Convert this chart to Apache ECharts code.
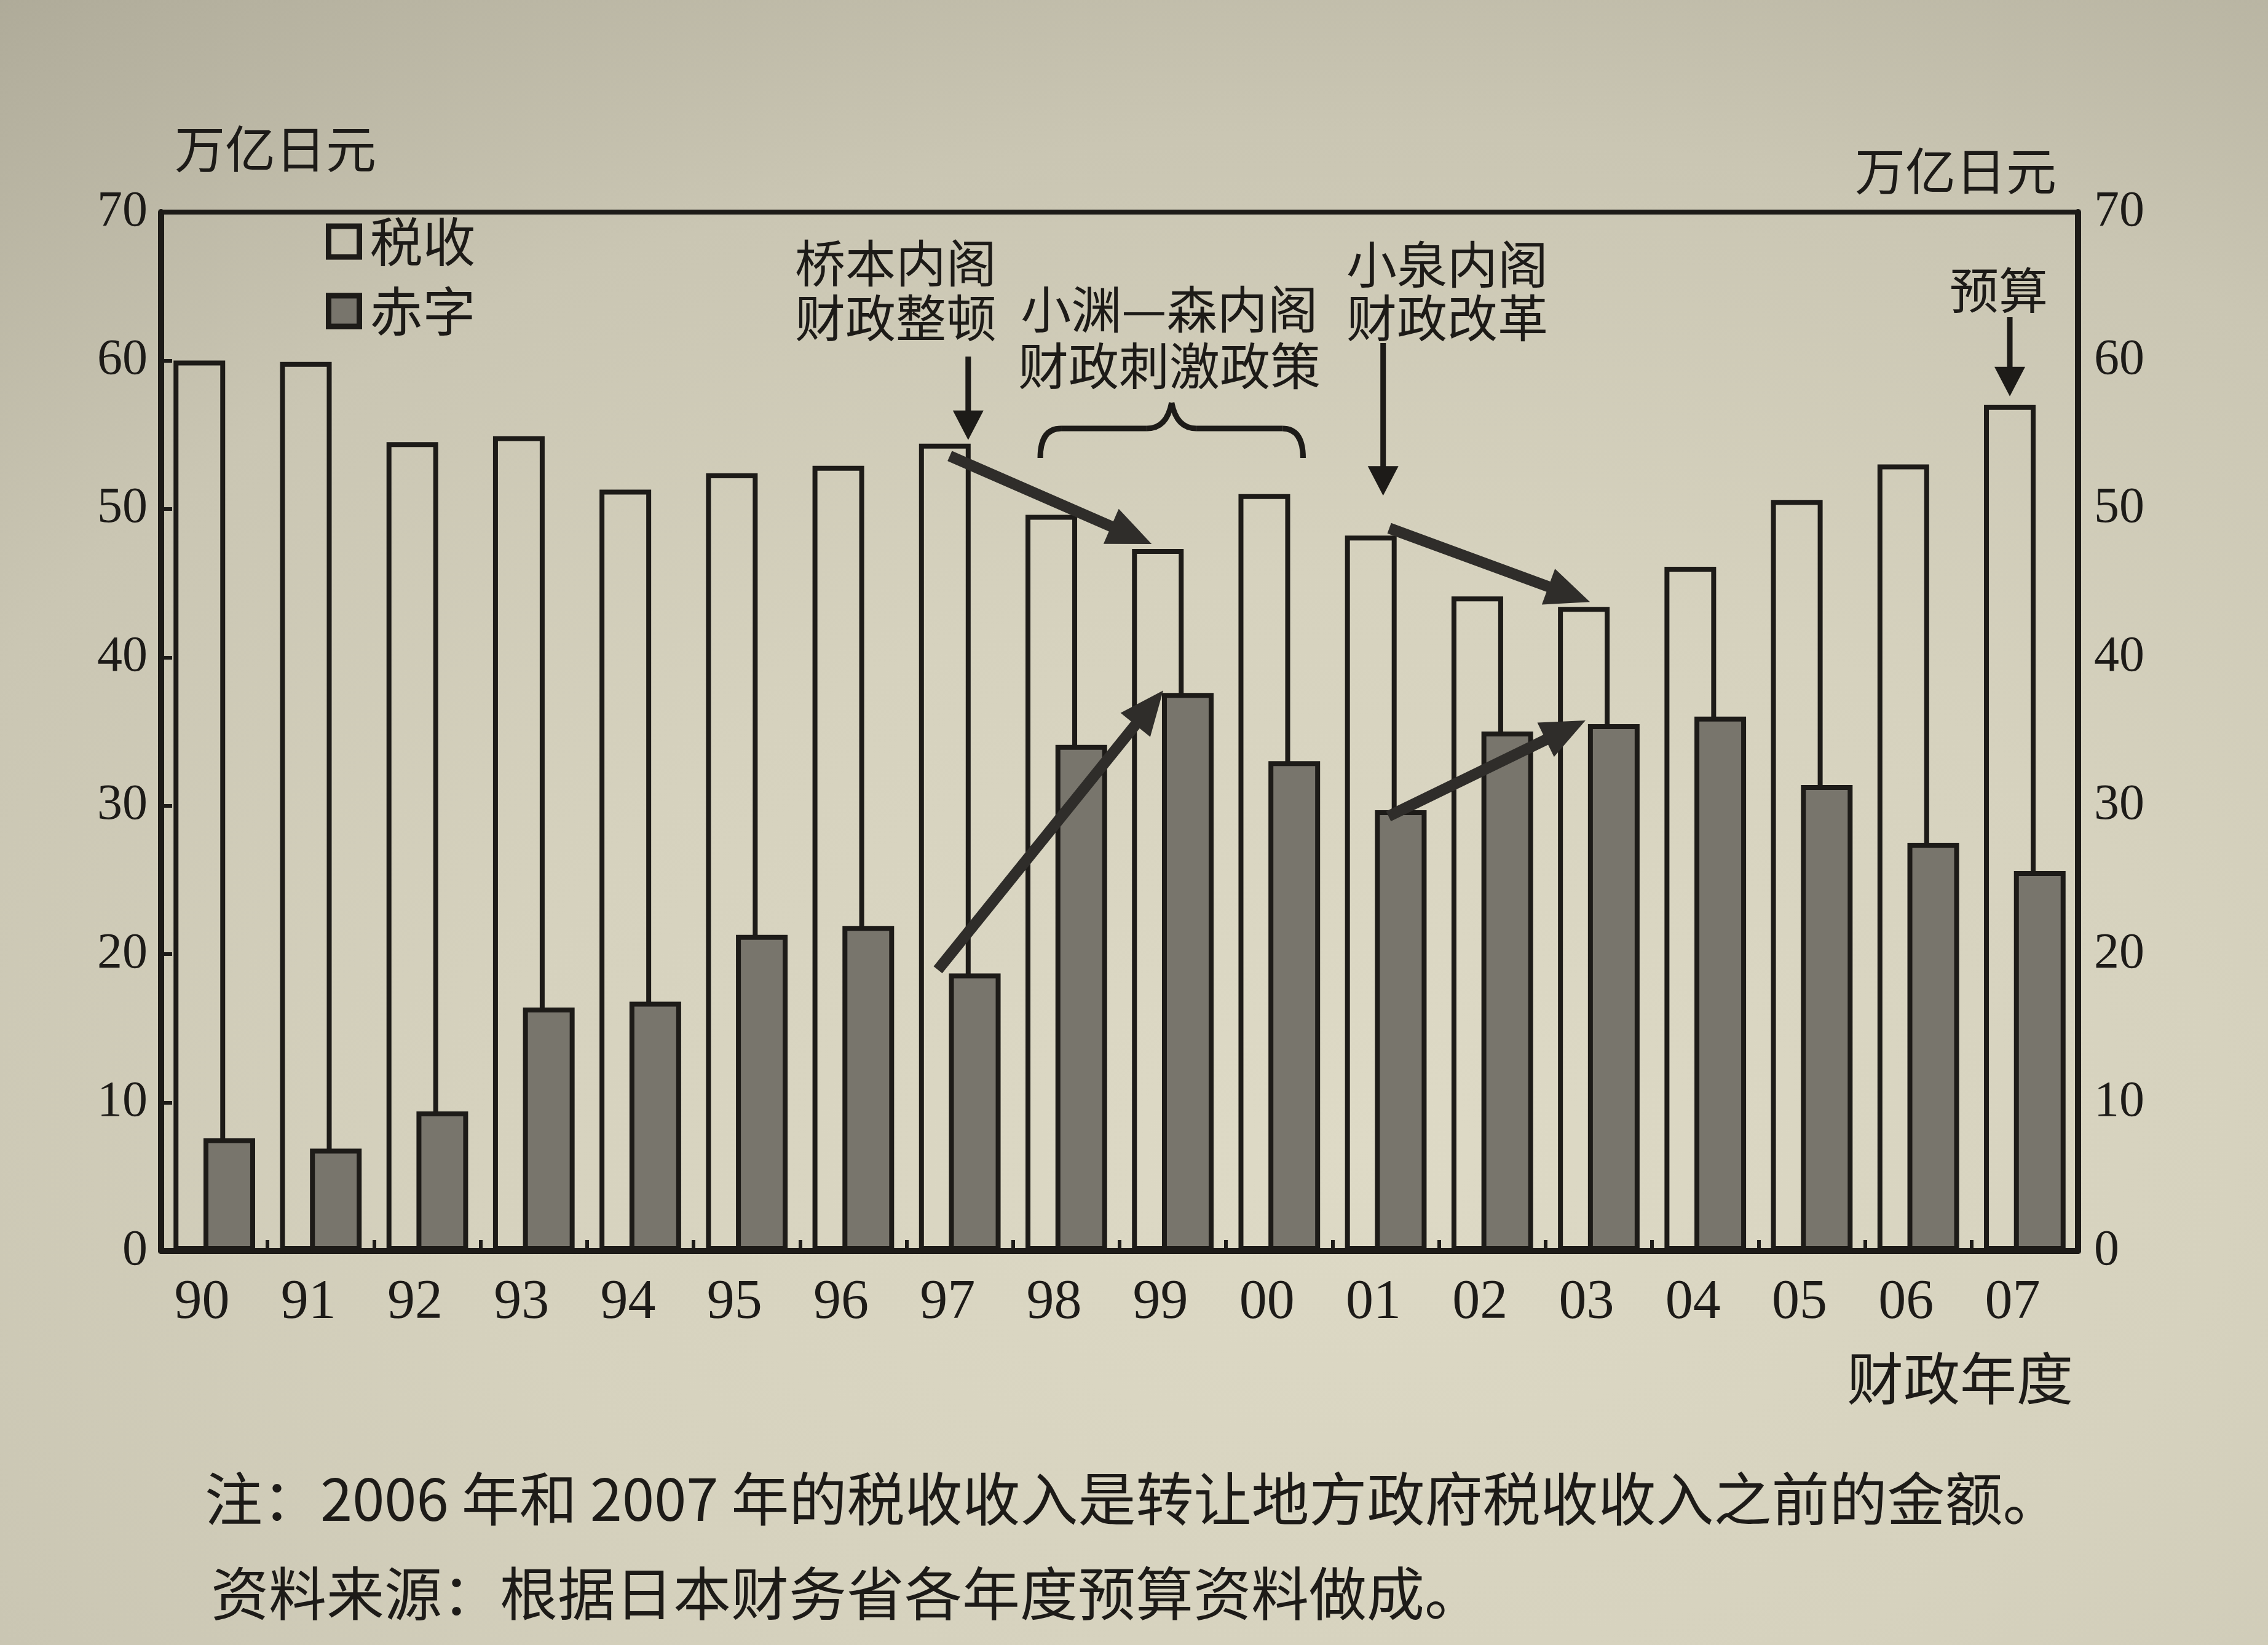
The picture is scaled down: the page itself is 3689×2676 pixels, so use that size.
<!DOCTYPE html>
<html>
<head>
<meta charset="utf-8">
<script src="https://cdn.jsdelivr.net/npm/echarts@6/dist/echarts.min.js"></script>
<style>
html,body{margin:0;padding:0;width:3689px;height:2676px;overflow:hidden;
background:radial-gradient(ellipse 110% 100% at 60% 70%, #dedac6 0%, #d6d2be 35%, #cac6b3 62%, #b3af9d 85%, #a29e8d 100%);}
#c{width:3689px;height:2676px;}
</style>
</head>
<body>
<div id="c"></div>
<script>
// ---- data ----
const categories = ['90','91','92','93','94','95','96','97','98','99','00','01','02','03','04','05','06','07'];
const taxRevenue = [60.0, 59.9, 54.5, 54.9, 51.3, 52.4, 52.9, 54.4, 49.6, 47.3, 51.0, 48.2, 44.1, 43.4, 46.1, 50.6, 53.0, 57.0];
const deficit    = [7.6, 6.9, 9.4, 16.4, 16.8, 21.3, 21.9, 18.7, 34.1, 37.6, 33.0, 29.7, 35.0, 35.5, 36.0, 31.4, 27.5, 25.6];
const axisMin = 0, axisMax = 70, axisStep = 10;

const INK = '#1d1b18';
const GRAY = '#78756c';
const ARROW = '#2f2d2a';
const SERIF = '"Liberation Serif","DejaVu Serif",serif';
const CJK = '"Noto Sans CJK SC","Noto Sans CJK JP",sans-serif';
const BAR_W = 84;
const OVERLAP = 0.42;

const chart = echarts.init(document.getElementById('c'), null, {renderer:'canvas', width:3689, height:2676});

const option = {
  backgroundColor: 'transparent',
  animation: false,
  grid: {left:262, right:309, top:345, bottom:641, show:true, borderColor:INK, borderWidth:8,
         backgroundColor:'transparent', containLabel:false, outerBoundsMode:'none'},
  legend: {
    orient:'vertical', left:525, top:345, itemWidth:50, itemHeight:50, itemGap:27, icon:'rect',
    textStyle:{fontSize:86, fontFamily:CJK, color:INK, padding:[0,0,0,12]},
    data:[
      {name:'税收', itemStyle:{color:'rgba(0,0,0,0)', borderColor:INK, borderWidth:9}},
      {name:'赤字', itemStyle:{color:GRAY, borderColor:INK, borderWidth:9}}
    ]
  },
  xAxis: {
    type:'category', data:categories,
    axisLine:{lineStyle:{color:INK, width:10}},
    axisTick:{show:true, inside:true, length:18, lineStyle:{color:INK, width:6}},
    axisLabel:{interval:0, margin:40, formatter:v => '{a|' + v + '}',
      rich:{a:{fontSize:90, fontFamily:SERIF, color:INK, padding:[0,40,0,0]}}},
    splitLine:{show:false}
  },
  yAxis: [
    {type:'value', min:axisMin, max:axisMax, interval:axisStep, position:'left',
     name:'万亿日元', nameLocation:'end', nameGap:62,
     nameTextStyle:{fontSize:82, fontFamily:CJK, color:INK, align:'left', padding:[0,0,0,22]},
     axisLine:{show:true, lineStyle:{color:INK, width:10}},
     axisTick:{show:true, inside:true, length:18, lineStyle:{color:INK, width:6}},
     axisLabel:{margin:22, fontSize:82, fontFamily:SERIF, color:INK},
     splitLine:{show:false}},
    {type:'value', min:axisMin, max:axisMax, interval:axisStep, position:'right',
     name:'万亿日元', nameLocation:'end', nameGap:26,
     nameTextStyle:{fontSize:82, fontFamily:CJK, color:INK, align:'right', padding:[0,35,0,0]},
     axisLine:{show:true, lineStyle:{color:INK, width:10}},
     axisTick:{show:false},
     axisLabel:{margin:26, fontSize:82, fontFamily:SERIF, color:INK},
     splitLine:{show:false}}
  ],
  series: [
    {name:'税收', type:'bar', data:taxRevenue, barWidth:BAR_W, barGap:(-OVERLAP*100)+'%',
     itemStyle:{color:'rgba(0,0,0,0)', borderColor:INK, borderWidth:8}, z:2},
    {name:'赤字', type:'bar', data:deficit, barWidth:BAR_W,
     itemStyle:{color:GRAY, borderColor:INK, borderWidth:8}, z:3}
  ]
};
chart.setOption(option);

// ---- annotations anchored on the bars ----
const GROUP = 2*BAR_W - OVERLAP*BAR_W;
const OFF = GROUP/2 - BAR_W/2;
function box(s, i){
  const v = s === 0 ? taxRevenue[i] : deficit[i];
  const p = chart.convertToPixel({xAxisIndex:0, yAxisIndex:0}, [categories[i], v]);
  const c = p[0] + (s === 0 ? -OFF : OFF);
  return {l:c - BAR_W/2, r:c + BAR_W/2, c:c, t:p[1]};
}
function arrow(x1, y1, x2, y2, shaft, headW, headL, color){
  const dx = x2 - x1, dy = y2 - y1, L = Math.hypot(dx, dy);
  const ux = dx/L, uy = dy/L, px = -uy, py = ux;
  const bx = x2 - ux*headL, by = y2 - uy*headL;
  return [
    {type:'line', z:100, shape:{x1:x1, y1:y1, x2:bx + ux*3, y2:by + uy*3}, style:{stroke:color, lineWidth:shaft}},
    {type:'polygon', z:100, shape:{points:[[x2, y2], [bx + px*headW/2, by + py*headW/2], [bx - px*headW/2, by - py*headW/2]]}, style:{fill:color}}
  ];
}
function txt(x, y, text, size, align, lh){
  return {type:'text', z:100, x:x, y:y, style:{text:text, fontSize:size, fontFamily:CJK, fill:INK,
          align:align, verticalAlign:'middle', lineHeight:lh || size}};
}
const idx = c => categories.indexOf(c);
const w97 = box(0, idx('97')), w99 = box(0, idx('99')), w01 = box(0, idx('01')), w03 = box(0, idx('03')), w07 = box(0, idx('07'));
const w98 = box(0, idx('98')), w00 = box(0, idx('00'));
const g97 = box(1, idx('97')), g99 = box(1, idx('99')), g01 = box(1, idx('01')), g03 = box(1, idx('03'));

let g = [];
// vertical pointer arrows
g = g.concat(arrow(w97.r - 4, 580, w97.r - 4, w97.t - 6, 9, 50, 48, INK));
g = g.concat(arrow(w01.r - 22, 558, w01.r - 22, w01.t - 65, 9, 50, 48, INK));
g = g.concat(arrow(w07.c, 516, w07.c, w07.t - 14, 9, 50, 48, INK));
// trend arrows
g = g.concat(arrow(w97.c + 8, w97.t + 20, w99.l + 32, w99.t - 8, 18, 62, 72, ARROW));
g = g.concat(arrow(g97.l - 18, g97.t - 6, g99.l + 2, g99.t - 4, 18, 62, 72, ARROW));
g = g.concat(arrow(w01.r - 12, w01.t - 12, w03.c + 10, w03.t - 8, 18, 62, 72, ARROW));
g = g.concat(arrow(g01.l + 22, g01.t + 10, g03.l - 4, g03.t - 6, 18, 62, 72, ARROW));
// brace over 98-00
(function(){
  const L = w98.l + 24, R = w00.r + 21, P = (L + R)/2, H = 697, TOP = 655, END = 745;
  const st = {stroke:INK, lineWidth:9, fill:null};
  g.push({type:'bezierCurve', z:100, shape:{x1:L, y1:END, cpx1:L, cpy1:H, x2:L + 34, y2:H}, style:st});
  g.push({type:'line', z:100, shape:{x1:L + 34, y1:H, x2:P - 40, y2:H}, style:st});
  g.push({type:'bezierCurve', z:100, shape:{x1:P - 40, y1:H, cpx1:P - 8, cpy1:H, x2:P, y2:TOP}, style:st});
  g.push({type:'bezierCurve', z:100, shape:{x1:P, y1:TOP, cpx1:P + 8, cpy1:H, x2:P + 40, y2:H}, style:st});
  g.push({type:'line', z:100, shape:{x1:P + 40, y1:H, x2:R - 34, y2:H}, style:st});
  g.push({type:'bezierCurve', z:100, shape:{x1:R - 34, y1:H, cpx1:R, cpy1:H, x2:R, y2:END}, style:st});
})();
// texts
g.push(txt(1457, 472, '桥本内阁\n财政整顿', 82, 'center', 89));
g.push(txt(1902, 549, '小渊—森内阁\n财政刺激政策', 82, 'center', 92));
g.push(txt(2354, 473, '小泉内阁\n财政改革', 82, 'center', 87));
g.push(txt(3251, 472, '预算', 80, 'center'));
g.push(txt(3372, 2242, '财政年度', 92, 'right'));
g.push(txt(333, 2438, '注：2006 年和 2007 年的税收收入是转让地方政府税收收入之前的金额。', 94, 'left'));
g.push(txt(343, 2592, '资料来源：根据日本财务省各年度预算资料做成。', 94, 'left'));

chart.setOption({graphic: g});
</script>
</body>
</html>
